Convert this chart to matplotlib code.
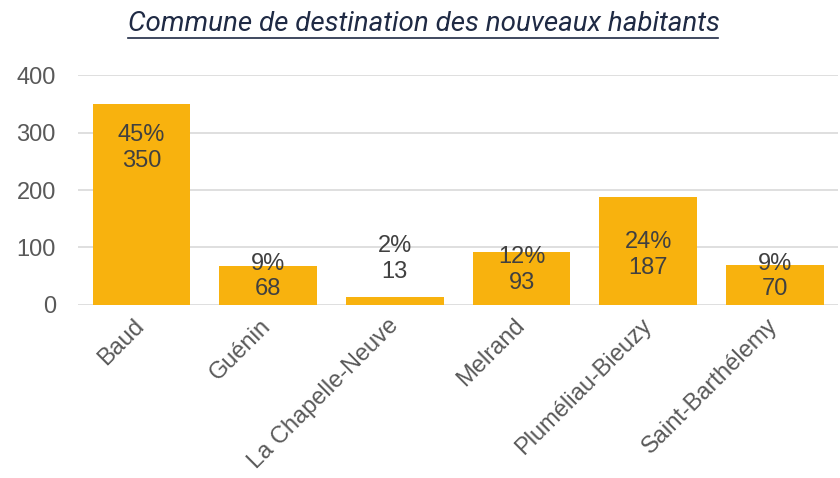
import matplotlib.pyplot as plt
from matplotlib.lines import Line2D
from matplotlib.transforms import ScaledTranslation

communes = ['Baud', 'Guénin', 'La Chapelle-Neuve', 'Melrand', 'Pluméliau-Bieuzy', 'Saint-Barthélemy']
habitants = [350, 68, 13, 93, 187, 70]
parts = ['45%', '9%', '2%', '12%', '24%', '9%']
# hauteur (en unites de l'axe) du centre de chaque etiquette
label_y = [273, 50, 80, 61, 87, 50]

fig = plt.figure(figsize=(8.4, 4.78), dpi=100)
ax = fig.add_axes([0.093, 0.362, 0.905, 0.481])

x = range(len(communes))
ax.bar(x, habitants, width=0.77, color='#F8B20E', zorder=2)
for i in x:
    ax.text(i, label_y[i], parts[i] + '\n' + str(habitants[i]), ha='center', va='center',
            fontsize=17, color='#404040', family='Liberation Sans', linespacing=1.2, zorder=3)

ax.set_xlim(-0.5, len(communes) - 0.5)
ax.set_ylim(0, 400)
ax.set_yticks([0, 100, 200, 300, 400])
ax.yaxis.grid(True, color='#d9d9d9', linewidth=1.2, zorder=0)
for s in ax.spines.values():
    s.set_visible(False)
ax.tick_params(length=0, labelsize=17, labelcolor='#595959')
ax.tick_params(axis='y', pad=16)
ax.tick_params(axis='x', pad=7)
ax.set_xticks(list(x))
ax.set_xticklabels(communes, rotation=45, ha='right', rotation_mode='anchor', family='Liberation Sans')
decal = ScaledTranslation(-8 / 100, 0, fig.dpi_scale_trans)
for t in ax.get_xticklabels():
    t.set_transform(t.get_transform() + decal)
for t in ax.get_yticklabels():
    t.set_family('Liberation Sans')

fig.text(0.505, 0.95, 'Commune de destination des nouveaux habitants', ha='center', va='center',
         fontsize=20, style='italic', family='Roboto', color='#1F2A44')
fig.add_artist(Line2D([0.152, 0.855], [0.921, 0.921], color='#1F2A44', linewidth=1.2))

fig.savefig('out.png', dpi=100)
